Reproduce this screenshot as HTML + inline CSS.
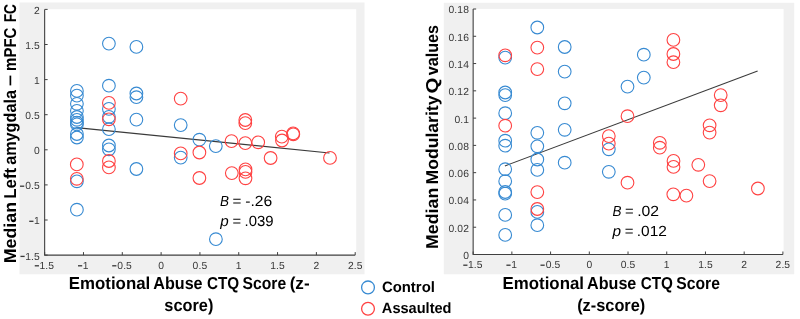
<!DOCTYPE html><html><head><meta charset="utf-8"><style>
html,body{margin:0;padding:0;background:#fff;width:800px;height:319px;overflow:hidden}
svg{display:block;will-change:transform}
text{font-family:"Liberation Sans",sans-serif;text-rendering:geometricPrecision}
.tk{font-size:10.3px;fill:#383838;letter-spacing:0.1px}
</style></head><body>
<svg width="800" height="319" viewBox="0 0 800 319">
<rect x="19.5" y="2.5" width="345" height="271.8" fill="#f0f0f0"/>
<rect x="443.8" y="2.8" width="350.4" height="271.5" fill="#f0f0f0"/>
<rect x="44.65" y="9.2" width="311.55" height="245.90" fill="#fff"/>
<rect x="473.15" y="8.9" width="310.45" height="245.60" fill="#fff"/>
<path d="M44.65 9.4V255.1H355.2" fill="none" stroke="#404040" stroke-width="1.1"/>
<path d="M44.65 255.1v-3M83.47 255.1v-3M122.29 255.1v-3M161.11 255.1v-3M199.93 255.1v-3M238.74 255.1v-3M277.56 255.1v-3M316.38 255.1v-3M355.20 255.1v-3M44.65 9.40h3M44.65 44.50h3M44.65 79.60h3M44.65 114.70h3M44.65 149.80h3M44.65 184.90h3M44.65 220.00h3M44.65 255.10h3" fill="none" stroke="#404040" stroke-width="1"/>
<text class="tk" x="39.49" y="268.90">1.5</text>
<rect x="34.76" y="265.15" width="4.2" height="1.3" fill="#383838"/>
<text class="tk" x="82.73" y="268.90">1</text>
<rect x="78.00" y="265.15" width="4.2" height="1.3" fill="#383838"/>
<text class="tk" x="117.33" y="268.90">0.5</text>
<rect x="112.19" y="265.15" width="4.2" height="1.3" fill="#383838"/>
<text class="tk" x="161.11" y="268.90" text-anchor="middle">0</text>
<text class="tk" x="199.93" y="268.90" text-anchor="middle">0.5</text>
<text class="tk" x="238.74" y="268.90" text-anchor="middle">1</text>
<text class="tk" x="277.56" y="268.90" text-anchor="middle">1.5</text>
<text class="tk" x="316.38" y="268.90" text-anchor="middle">2</text>
<text class="tk" x="355.20" y="268.90" text-anchor="middle">2.5</text>
<text class="tk" x="39.8" y="13.80" text-anchor="end">2</text>
<text class="tk" x="39.8" y="48.90" text-anchor="end">1.5</text>
<text class="tk" x="39.8" y="84.00" text-anchor="end">1</text>
<text class="tk" x="39.8" y="119.10" text-anchor="end">0.5</text>
<text class="tk" x="39.8" y="154.20" text-anchor="end">0</text>
<text class="tk" x="39.8" y="189.30" text-anchor="end">0.5</text>
<rect x="20.04" y="185.55" width="4.2" height="1.3" fill="#383838"/>
<text class="tk" x="39.8" y="224.40" text-anchor="end">1</text>
<rect x="29.24" y="220.65" width="4.2" height="1.3" fill="#383838"/>
<text class="tk" x="39.8" y="259.50" text-anchor="end">1.5</text>
<rect x="20.46" y="255.75" width="4.2" height="1.3" fill="#383838"/>
<path d="M473.15 9.0V254.5H782.9" fill="none" stroke="#404040" stroke-width="1.1"/>
<path d="M473.15 254.5v-3M511.87 254.5v-3M550.59 254.5v-3M589.31 254.5v-3M628.02 254.5v-3M666.74 254.5v-3M705.46 254.5v-3M744.18 254.5v-3M782.90 254.5v-3M473.15 9.00h3M473.15 36.28h3M473.15 63.56h3M473.15 90.83h3M473.15 118.11h3M473.15 145.39h3M473.15 172.67h3M473.15 199.94h3M473.15 227.22h3M473.15 254.50h3" fill="none" stroke="#404040" stroke-width="1"/>
<text class="tk" x="467.99" y="268.30">1.5</text>
<rect x="463.26" y="264.55" width="4.2" height="1.3" fill="#383838"/>
<text class="tk" x="511.13" y="268.30">1</text>
<rect x="506.40" y="264.55" width="4.2" height="1.3" fill="#383838"/>
<text class="tk" x="545.63" y="268.30">0.5</text>
<rect x="540.49" y="264.55" width="4.2" height="1.3" fill="#383838"/>
<text class="tk" x="589.31" y="268.30" text-anchor="middle">0</text>
<text class="tk" x="628.02" y="268.30" text-anchor="middle">0.5</text>
<text class="tk" x="666.74" y="268.30" text-anchor="middle">1</text>
<text class="tk" x="705.46" y="268.30" text-anchor="middle">1.5</text>
<text class="tk" x="744.18" y="268.30" text-anchor="middle">2</text>
<text class="tk" x="782.90" y="268.30" text-anchor="middle">2.5</text>
<text class="tk" x="469.0" y="13.40" text-anchor="end">0.18</text>
<text class="tk" x="469.0" y="40.68" text-anchor="end">0.16</text>
<text class="tk" x="469.0" y="67.96" text-anchor="end">0.14</text>
<text class="tk" x="469.0" y="95.23" text-anchor="end">0.12</text>
<text class="tk" x="469.0" y="122.51" text-anchor="end">0.1</text>
<text class="tk" x="469.0" y="149.79" text-anchor="end">0.08</text>
<text class="tk" x="469.0" y="177.07" text-anchor="end">0.06</text>
<text class="tk" x="469.0" y="204.34" text-anchor="end">0.04</text>
<text class="tk" x="469.0" y="231.62" text-anchor="end">0.02</text>
<text class="tk" x="469.0" y="258.90" text-anchor="end">0</text>
<line x1="76.4" y1="127.6" x2="329.5" y2="153.0" stroke="#3a3a3a" stroke-width="1.1"/>
<line x1="504.9" y1="165.9" x2="757.6" y2="70.9" stroke="#3a3a3a" stroke-width="1.1"/>
<g fill="none" stroke="#378ad2" stroke-width="1.1">
<circle cx="76.9" cy="90.9" r="6.35"/>
<circle cx="76.9" cy="95.6" r="6.35"/>
<circle cx="76.9" cy="103.8" r="6.35"/>
<circle cx="76.9" cy="110.8" r="6.35"/>
<circle cx="76.9" cy="117.0" r="6.35"/>
<circle cx="76.9" cy="119.8" r="6.35"/>
<circle cx="76.9" cy="122.6" r="6.35"/>
<circle cx="76.9" cy="124.4" r="6.35"/>
<circle cx="76.9" cy="134" r="6.35"/>
<circle cx="76.9" cy="137.5" r="6.35"/>
<circle cx="76.9" cy="181.3" r="6.35"/>
<circle cx="76.9" cy="209.7" r="6.35"/>
<circle cx="108.9" cy="43.6" r="6.35"/>
<circle cx="108.9" cy="85.7" r="6.35"/>
<circle cx="108.9" cy="108.9" r="6.35"/>
<circle cx="108.9" cy="116.8" r="6.35"/>
<circle cx="108.9" cy="129.2" r="6.35"/>
<circle cx="108.9" cy="145.5" r="6.35"/>
<circle cx="108.9" cy="149.3" r="6.35"/>
<circle cx="136.4" cy="46.9" r="6.35"/>
<circle cx="136.4" cy="93.5" r="6.35"/>
<circle cx="136.4" cy="97.2" r="6.35"/>
<circle cx="136.4" cy="119.6" r="6.35"/>
<circle cx="136.4" cy="169" r="6.35"/>
<circle cx="180.7" cy="125.1" r="6.35"/>
<circle cx="180.7" cy="157.6" r="6.35"/>
<circle cx="199.4" cy="139.7" r="6.35"/>
<circle cx="215.8" cy="146.1" r="6.35"/>
<circle cx="215.9" cy="239.2" r="6.35"/>
<circle cx="505.2" cy="57.6" r="6.35"/>
<circle cx="505.2" cy="92.5" r="6.35"/>
<circle cx="505.2" cy="95.1" r="6.35"/>
<circle cx="505.2" cy="113.2" r="6.35"/>
<circle cx="505.2" cy="140.7" r="6.35"/>
<circle cx="505.2" cy="145.7" r="6.35"/>
<circle cx="505.2" cy="169.2" r="6.35"/>
<circle cx="505.2" cy="181.2" r="6.35"/>
<circle cx="505.2" cy="192" r="6.35"/>
<circle cx="505.2" cy="193.6" r="6.35"/>
<circle cx="505.2" cy="214.9" r="6.35"/>
<circle cx="505.2" cy="234.9" r="6.35"/>
<circle cx="537.3" cy="27.5" r="6.35"/>
<circle cx="537.3" cy="132.8" r="6.35"/>
<circle cx="537.3" cy="146.3" r="6.35"/>
<circle cx="537.3" cy="159.5" r="6.35"/>
<circle cx="537.3" cy="169.9" r="6.35"/>
<circle cx="537.3" cy="211.9" r="6.35"/>
<circle cx="537.3" cy="225.2" r="6.35"/>
<circle cx="564.7" cy="47" r="6.35"/>
<circle cx="564.7" cy="71.6" r="6.35"/>
<circle cx="564.7" cy="103.3" r="6.35"/>
<circle cx="564.7" cy="129.8" r="6.35"/>
<circle cx="564.7" cy="162.7" r="6.35"/>
<circle cx="608.8" cy="149.3" r="6.35"/>
<circle cx="608.8" cy="171.8" r="6.35"/>
<circle cx="627.5" cy="86.6" r="6.35"/>
<circle cx="643.8" cy="54.7" r="6.35"/>
<circle cx="643.8" cy="77.6" r="6.35"/>
</g>
<g fill="none" stroke="#ff4242" stroke-width="1.1">
<circle cx="76.8" cy="164.4" r="6.35"/>
<circle cx="76.8" cy="178.8" r="6.35"/>
<circle cx="108.9" cy="102.9" r="6.35"/>
<circle cx="108.9" cy="119.3" r="6.35"/>
<circle cx="108.9" cy="161" r="6.35"/>
<circle cx="108.9" cy="167.4" r="6.35"/>
<circle cx="180.7" cy="98.6" r="6.35"/>
<circle cx="180.7" cy="153.4" r="6.35"/>
<circle cx="199.4" cy="152.5" r="6.35"/>
<circle cx="199.4" cy="178" r="6.35"/>
<circle cx="231.5" cy="141.1" r="6.35"/>
<circle cx="231.8" cy="173.1" r="6.35"/>
<circle cx="245.3" cy="120" r="6.35"/>
<circle cx="245.3" cy="123.1" r="6.35"/>
<circle cx="245.3" cy="143.1" r="6.35"/>
<circle cx="245.5" cy="169.4" r="6.35"/>
<circle cx="245.5" cy="171.9" r="6.35"/>
<circle cx="245.5" cy="178.3" r="6.35"/>
<circle cx="258.2" cy="142.3" r="6.35"/>
<circle cx="270.6" cy="158" r="6.35"/>
<circle cx="281.8" cy="136.6" r="6.35"/>
<circle cx="282.0" cy="140.5" r="6.35"/>
<circle cx="293.1" cy="133.4" r="6.35"/>
<circle cx="293.3" cy="134.3" r="6.35"/>
<circle cx="330.0" cy="157.9" r="6.35"/>
<circle cx="505.2" cy="55.3" r="6.35"/>
<circle cx="505.2" cy="125.7" r="6.35"/>
<circle cx="537.3" cy="47.6" r="6.35"/>
<circle cx="537.3" cy="69.1" r="6.35"/>
<circle cx="537.3" cy="192.1" r="6.35"/>
<circle cx="537.3" cy="209" r="6.35"/>
<circle cx="608.8" cy="136.1" r="6.35"/>
<circle cx="608.8" cy="143.6" r="6.35"/>
<circle cx="627.5" cy="116.2" r="6.35"/>
<circle cx="627.5" cy="182.7" r="6.35"/>
<circle cx="659.8" cy="142.8" r="6.35"/>
<circle cx="659.8" cy="147.7" r="6.35"/>
<circle cx="673.4" cy="39.9" r="6.35"/>
<circle cx="673.4" cy="54" r="6.35"/>
<circle cx="673.4" cy="62.2" r="6.35"/>
<circle cx="673.5" cy="160.9" r="6.35"/>
<circle cx="673.5" cy="166.9" r="6.35"/>
<circle cx="673.3" cy="194.3" r="6.35"/>
<circle cx="686.4" cy="195.6" r="6.35"/>
<circle cx="698.3" cy="164.8" r="6.35"/>
<circle cx="709.6" cy="125.3" r="6.35"/>
<circle cx="709.6" cy="132.6" r="6.35"/>
<circle cx="709.6" cy="181.1" r="6.35"/>
<circle cx="720.7" cy="95.1" r="6.35"/>
<circle cx="720.7" cy="105.3" r="6.35"/>
<circle cx="757.9" cy="188.5" r="6.35"/>
</g>
<circle cx="368" cy="287.4" r="6.4" fill="none" stroke="#378ad2" stroke-width="1.3"/>
<circle cx="368" cy="308.7" r="6.4" fill="none" stroke="#ff4242" stroke-width="1.3"/>
<text transform="translate(15.80,263.25) rotate(-90)" x="0" y="0" font-size="17.2" font-weight="bold" fill="#000" textLength="61.30" lengthAdjust="spacingAndGlyphs">Median</text>
<text transform="translate(15.80,198.78) rotate(-90)" x="0" y="0" font-size="17.2" font-weight="bold" fill="#000" textLength="30.90" lengthAdjust="spacingAndGlyphs">Left</text>
<text transform="translate(15.80,164.79) rotate(-90)" x="0" y="0" font-size="17.2" font-weight="bold" fill="#000" textLength="74.68" lengthAdjust="spacingAndGlyphs">amygdala</text>
<text transform="translate(14.50,85.89) rotate(-90)" x="0" y="0" font-size="17.2" font-weight="bold" fill="#000" textLength="11.01" lengthAdjust="spacingAndGlyphs">–</text>
<text transform="translate(15.80,70.95) rotate(-90)" x="0" y="0" font-size="17.2" font-weight="bold" fill="#000" textLength="43.39" lengthAdjust="spacingAndGlyphs">mPFC</text>
<text transform="translate(15.80,22.37) rotate(-90)" x="0" y="0" font-size="17.2" font-weight="bold" fill="#000" textLength="18.43" lengthAdjust="spacingAndGlyphs">FC</text>
<text transform="translate(437.90,248.94) rotate(-90)" x="0" y="0" font-size="17.2" font-weight="bold" fill="#000" textLength="61.20" lengthAdjust="spacingAndGlyphs">Median</text>
<text transform="translate(437.90,184.43) rotate(-90)" x="0" y="0" font-size="17.2" font-weight="bold" fill="#000" textLength="88.93" lengthAdjust="spacingAndGlyphs">Modularity</text>
<text transform="translate(437.90,93.42) rotate(-90)" x="0" y="0" font-size="17.2" font-weight="bold" fill="#000" textLength="16.00" lengthAdjust="spacingAndGlyphs">Q</text>
<text transform="translate(437.90,75.26) rotate(-90)" x="0" y="0" font-size="17.2" font-weight="bold" fill="#000" textLength="50.36" lengthAdjust="spacingAndGlyphs">values</text>
<text x="68.82" y="288.70" font-size="17.3" font-weight="bold" fill="#000" textLength="81.42" lengthAdjust="spacingAndGlyphs">Emotional</text>
<text x="153.32" y="288.70" font-size="17.3" font-weight="bold" fill="#000" textLength="49.27" lengthAdjust="spacingAndGlyphs">Abuse</text>
<text x="206.89" y="288.70" font-size="17.3" font-weight="bold" fill="#000" textLength="32.24" lengthAdjust="spacingAndGlyphs">CTQ</text>
<text x="242.53" y="288.70" font-size="17.3" font-weight="bold" fill="#000" textLength="43.59" lengthAdjust="spacingAndGlyphs">Score</text>
<text x="289.64" y="288.70" font-size="17.3" font-weight="bold" fill="#000" textLength="19.97" lengthAdjust="spacingAndGlyphs">(z-</text>
<text x="502.57" y="288.70" font-size="17.3" font-weight="bold" fill="#000" textLength="81.42" lengthAdjust="spacingAndGlyphs">Emotional</text>
<text x="587.07" y="288.70" font-size="17.3" font-weight="bold" fill="#000" textLength="49.27" lengthAdjust="spacingAndGlyphs">Abuse</text>
<text x="640.64" y="288.70" font-size="17.3" font-weight="bold" fill="#000" textLength="32.24" lengthAdjust="spacingAndGlyphs">CTQ</text>
<text x="676.28" y="288.70" font-size="17.3" font-weight="bold" fill="#000" textLength="43.59" lengthAdjust="spacingAndGlyphs">Score</text>
<text x="164.35" y="311.40" font-size="17.3" font-weight="bold" fill="#000" textLength="48.99" lengthAdjust="spacingAndGlyphs">score)</text>
<text x="577.18" y="311.40" font-size="17.3" font-weight="bold" fill="#000" textLength="68.09" lengthAdjust="spacingAndGlyphs">(z-score)</text>
<text x="381.90" y="292.30" font-size="15" font-weight="bold" fill="#000" textLength="53.01" lengthAdjust="spacingAndGlyphs">Control</text>
<text x="381.86" y="313.40" font-size="15" font-weight="bold" fill="#000" textLength="69.65" lengthAdjust="spacingAndGlyphs">Assaulted</text>
<text x="220.09" y="205.50" font-size="14.7" font-weight="normal" font-style="italic" fill="#000" textLength="9.00" lengthAdjust="spacingAndGlyphs">B</text>
<text x="232.64" y="205.50" font-size="14.7" font-weight="normal" fill="#000" textLength="8.88" lengthAdjust="spacingAndGlyphs">=</text>
<text x="245.27" y="205.50" font-size="14.7" font-weight="normal" fill="#000" textLength="27.01" lengthAdjust="spacingAndGlyphs">-.26</text>
<text x="220.30" y="225.90" font-size="14.7" font-weight="normal" font-style="italic" fill="#000" textLength="8.45" lengthAdjust="spacingAndGlyphs">p</text>
<text x="232.46" y="225.90" font-size="14.7" font-weight="normal" fill="#000" textLength="8.64" lengthAdjust="spacingAndGlyphs">=</text>
<text x="244.56" y="225.90" font-size="14.7" font-weight="normal" fill="#000" textLength="29.03" lengthAdjust="spacingAndGlyphs">.039</text>
<text x="612.50" y="216.10" font-size="14.7" font-weight="normal" font-style="italic" fill="#000" textLength="9.00" lengthAdjust="spacingAndGlyphs">B</text>
<text x="625.06" y="216.10" font-size="14.7" font-weight="normal" fill="#000" textLength="8.64" lengthAdjust="spacingAndGlyphs">=</text>
<text x="637.18" y="216.10" font-size="14.7" font-weight="normal" fill="#000" textLength="21.91" lengthAdjust="spacingAndGlyphs">.02</text>
<text x="612.51" y="236.20" font-size="14.7" font-weight="normal" font-style="italic" fill="#000" textLength="8.55" lengthAdjust="spacingAndGlyphs">p</text>
<text x="624.65" y="236.20" font-size="14.7" font-weight="normal" fill="#000" textLength="8.76" lengthAdjust="spacingAndGlyphs">=</text>
<text x="636.81" y="236.20" font-size="14.7" font-weight="normal" fill="#000" textLength="30.11" lengthAdjust="spacingAndGlyphs">.012</text>
</svg></body></html>
